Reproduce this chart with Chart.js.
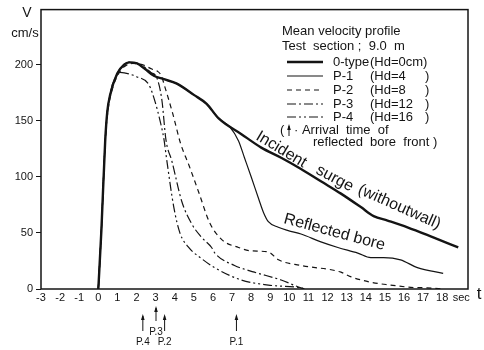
<!DOCTYPE html>
<html>
<head>
  <title>Mean velocity profile</title>
  <script src="https://cdn.jsdelivr.net/npm/chart.js@4.4.0/dist/chart.umd.min.js"></script>
  <style>
    body { margin: 0; background: #fff; }
    #wrap { position: relative; width: 484px; height: 350px; }
  </style>
</head>
<body>
  <div id="wrap"><canvas id="myChart"></canvas></div>
  <script>
    // axis ticks (19 is printed as "sec")
    var xTicks = [-3, -2, -1, 0, 1, 2, 3, 4, 5, 6, 7, 8, 9, 10, 11, 12, 13, 14, 15, 16, 17, 18, 19];
    var yTicks = [0, 50, 100, 150, 200];

    // 0-type (Hd = 0 cm), incident surge without wall
    var tType0 = [0, 0.16, 0.36, 0.47, 0.62, 0.99, 1.35, 1.61, 2.03, 2.45, 2.91, 3.43, 4.11, 5.0, 5.67, 6.3, 7.49, 8.53, 9.57, 10.61, 11.65, 12.7, 13.74, 14.41, 15.14, 16.18, 17.53, 18.84];
    var vType0 = [0, 52, 132, 158, 173, 192, 200, 202, 201, 196, 190, 187, 183, 173, 165, 152, 138, 126, 117, 107, 96, 85, 73, 65, 61, 55, 46, 37];

    // P-1 (Hd = 4)
    var tP1 = [0, 0.16, 0.36, 0.47, 0.62, 0.99, 1.35, 1.61, 2.03, 2.45, 2.91, 3.43, 4.11, 5.0, 5.67, 6.3, 6.9, 7.34, 7.65, 8.0, 8.4, 8.65, 8.9, 9.42, 9.94, 10.61, 11.65, 12.54, 13.58, 14.26, 14.93, 15.82, 16.7, 18.05];
    var vP1 = [0, 52, 132, 158, 173, 192, 200, 202, 201, 196, 190, 187, 183, 173, 165, 152, 144, 132, 117, 100, 80, 68, 60, 55, 52, 49, 42, 37, 32, 28, 28, 26, 19, 14];

    // P-2 (Hd = 8)
    var tP2 = [0, 0.16, 0.36, 0.5, 0.65, 1.0, 1.35, 1.8, 2.3, 2.8, 3.1, 3.3, 3.45, 3.9, 4.3, 4.75, 5.26, 5.83, 6.46, 7.34, 8.0, 8.9, 9.43, 10.6, 12.7, 13.2, 14.27, 15.3, 16.35, 17.2, 18.1];
    var vP2 = [0, 52, 132, 158, 173, 190, 198, 201, 200, 196, 194, 190, 182, 156, 130, 110, 86, 59, 44, 37, 34, 33, 26, 21, 15, 11, 6, 3.5, 1.5, 1, 0];

    // P-3 (Hd = 12)
    var tP3 = [0, 0.16, 0.36, 0.47, 0.62, 0.99, 1.35, 1.61, 2.2, 2.75, 3.07, 3.33, 3.54, 3.85, 4.37, 4.89, 5.41, 5.93, 6.1, 7.13, 8.17, 9.57, 10.6, 10.8];
    var vP3 = [0, 52, 132, 158, 173, 192, 200, 202, 200, 193, 188, 168, 133, 114, 78, 58, 46, 37, 32, 21, 15, 8, 1, 0];

    // P-4 (Hd = 16)
    var tP4 = [0, 0.16, 0.36, 0.5, 0.7, 0.95, 1.1, 2.03, 2.65, 2.97, 3.23, 3.43, 3.59, 3.95, 4.27, 4.73, 5.41, 6.09, 7.49, 8.9, 10.6, 10.8];
    var vP4 = [0, 52, 132, 160, 180, 190, 193, 189, 182, 167, 150, 134, 114, 73, 50, 37, 27, 19, 8, 3.5, 1, 0];

    var seriesNames = ['0-type', 'P-1', 'P-2', 'P-3', 'P-4'];
    var seriesHd = ['(Hd=0cm)', '(Hd=4', '(Hd=8', '(Hd=12', '(Hd=16'];

    // arrival time of reflected bore front
    var arrivalNames = ['P.4', 'P.3', 'P.2', 'P.1'];
    var arrivalTimes = [2.33, 3.02, 3.47, 7.23];

    function pts(t, v) {
      return t.map(function(x, i) { return {x: x, y: v[i]}; });
    }

    var ink = '#141414';
    var face = '"Liberation Sans", Arial, sans-serif';
    Chart.defaults.font.family = face;
    Chart.defaults.color = ink;

    function upArrow(ctx, x, yTop, yBottom) {
      ctx.beginPath();
      ctx.moveTo(x, yBottom);
      ctx.lineTo(x, yTop + 2);
      ctx.stroke();
      ctx.beginPath();
      ctx.moveTo(x, yTop);
      ctx.lineTo(x - 1.8, yTop + 6);
      ctx.lineTo(x + 1.8, yTop + 6);
      ctx.closePath();
      ctx.fill();
    }

    function tilted(ctx, text, x, y, deg) {
      ctx.save();
      ctx.translate(x, y);
      ctx.rotate(deg * Math.PI / 180);
      ctx.fillText(text, 0, 0);
      ctx.restore();
    }

    var decor = {
      id: 'decor',
      afterDraw: function(chart) {
        var ctx = chart.ctx, a = chart.chartArea, xs = chart.scales.x;
        ctx.save();
        ctx.strokeStyle = ink;
        ctx.fillStyle = ink;

        // frame
        ctx.lineWidth = 1.5;
        ctx.strokeRect(a.left, a.top, a.right - a.left, a.bottom - a.top);

        // axis names
        ctx.textBaseline = 'middle';
        ctx.textAlign = 'center';
        ctx.font = '14px ' + face;
        ctx.fillText('V', 27, 13);
        ctx.font = '13px ' + face;
        ctx.fillText('cm/s', 25, 33);
        ctx.font = '17px ' + face;
        ctx.fillText('t', a.right + 11, a.bottom + 5);

        // legend block
        ctx.textAlign = 'left';
        ctx.font = '13px ' + face;
        ctx.fillText('Mean velocity profile', 282, 31);
        ctx.fillText('Test  section ;  9.0  m', 282, 46);
        var rows = [62, 76, 90, 104, 117];
        chart.data.datasets.forEach(function(ds, i) {
          var y = rows[i];
          ctx.save();
          ctx.lineWidth = ds.borderWidth;
          ctx.setLineDash(ds.borderDash || []);
          ctx.beginPath();
          ctx.moveTo(287, y);
          ctx.lineTo(323, y);
          ctx.stroke();
          ctx.restore();
          ctx.fillText(seriesNames[i], 333, y);
          ctx.fillText(seriesHd[i], 370, y);
          if (i > 0) ctx.fillText(')', 425, y);
        });
        ctx.fillText('(', 280, 130);
        ctx.lineWidth = 1;
        upArrow(ctx, 289, 124, 136);
        ctx.fillText('· Arrival  time  of', 294, 130);
        ctx.fillText('reflected  bore  front )', 313, 142);

        // curve annotations, sitting just above the curves
        ctx.textBaseline = 'alphabetic';
        ctx.font = '16px ' + face;
        tilted(ctx, 'Incident', 255, 139, 31);
        tilted(ctx, 'surge', 315, 173, 28);
        tilted(ctx, '(withoutwall)', 357, 193, 24);
        tilted(ctx, 'Reflected bore', 283, 223, 15);

        // arrival arrows under the time axis
        ctx.textBaseline = 'middle';
        ctx.font = '10px ' + face;
        ctx.textAlign = 'center';
        ctx.lineWidth = 1;
        arrivalNames.forEach(function(name, i) {
          var x = xs.getPixelForValue(arrivalTimes[i]);
          if (name === 'P.3') {
            upArrow(ctx, x, 306, 321);
            ctx.fillText(name, x, 332);
          } else {
            upArrow(ctx, x, 314, 331);
            ctx.fillText(name, x, 342);
          }
        });
        ctx.restore();
      }
    };

    var ctx = document.getElementById('myChart').getContext('2d');
    var chart = new Chart(ctx, {
      type: 'line',
      data: {
        datasets: [
          { label: '0-type', data: pts(tType0, vType0), borderWidth: 2.4 },
          { label: 'P-1', data: pts(tP1, vP1), borderWidth: 1.2 },
          { label: 'P-2', data: pts(tP2, vP2), borderWidth: 1.2, borderDash: [5, 4] },
          { label: 'P-3', data: pts(tP3, vP3), borderWidth: 1.2, borderDash: [9, 3, 2, 3] },
          { label: 'P-4', data: pts(tP4, vP4), borderWidth: 1.2, borderDash: [9, 3, 2, 3, 2, 3] }
        ].map(function(ds) {
          ds.borderColor = ink;
          ds.pointRadius = 0;
          ds.fill = false;
          ds.cubicInterpolationMode = 'monotone';
          return ds;
        })
      },
      options: {
        responsive: true,
        maintainAspectRatio: false,
        animation: false,
        layout: { padding: { top: 7, right: 16, left: 0, bottom: 0 } },
        plugins: { legend: { display: false }, tooltip: { enabled: false } },
        scales: {
          x: {
            type: 'linear',
            min: -3,
            max: 19.35,
            afterBuildTicks: function(s) { s.ticks = xTicks.map(function(v) { return {value: v}; }); },
            afterFit: function(s) { s.height = 61; },
            grid: { display: false, drawTicks: false },
            border: { display: false },
            ticks: {
              autoSkip: false,
              maxRotation: 0,
              padding: 2,
              font: { size: 11 },
              callback: function(v) { return v === 19 ? 'sec' : v; }
            }
          },
          y: {
            min: 0,
            max: 249,
            afterBuildTicks: function(s) { s.ticks = yTicks.map(function(v) { return {value: v}; }); },
            afterFit: function(s) { s.width = 41; },
            grid: { drawOnChartArea: false, drawTicks: true, tickLength: 5, color: ink },
            border: { display: false },
            ticks: { padding: 3, font: { size: 11 } }
          }
        }
      },
      plugins: [decor]
    });
  </script>
</body>
</html>
